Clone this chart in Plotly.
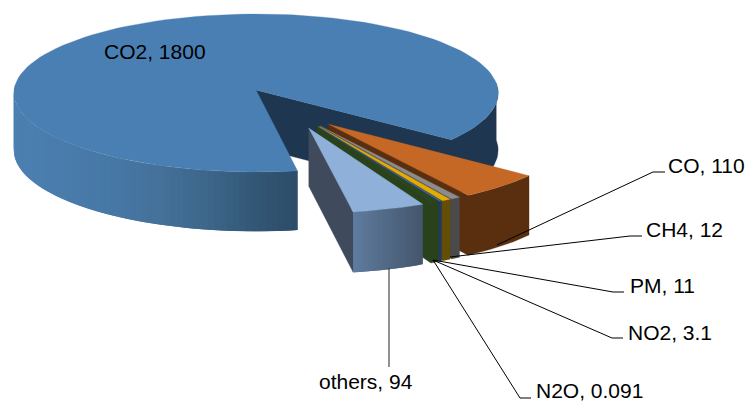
import math
import plotly.graph_objects as go

# ---- data ----
names = ["CO2", "CO", "CH4", "PM", "NO2", "N2O", "others"]
shown_values = ["1800", "110", "12", "11", "3.1", "0.091", "94"]
wedge_sizes = [1800, 110, 12, 11, 3.1, 11, 94]  # the N2O wedge is drawn much wider than its label says
top_colors = ["#4A7FB3", "#C56825", "#8C8C8C", "#E3AB05", "#3A66A3", "#2D451C", "#8FB0D9"]
wall_colors = ["#1F3650", "#5A2F10", "#4A4A4A", "#654D05", "#1F3A66", "#2A421C", "#3F4B5C"]
exploded = [0, 0.52, 0.52, 0.52, 0.52, 0.52, 0.52]

# ---- projection settings ----
CX, CY, RX, RY, K, DEPTH = 256, 90, 242, 78.9, 0.038, 57
START = -80.5
MID0 = -61
FONT = dict(family="Liberation Sans, Arial, sans-serif", size=21, color="#000000")


def mix(c1, c2, t):
    a = [int(c1[i:i + 2], 16) for i in (1, 3, 5)]
    b = [int(c2[i:i + 2], 16) for i in (1, 3, 5)]
    return "rgb(%d,%d,%d)" % tuple(round(a[i] + (b[i] - a[i]) * t) for i in range(3))


def project(X, Y, z=0.0):
    p = 1 / (1 + K * Y)
    return CX + RX * X * p, CY - RY * Y * p + z * DEPTH * p


def rim(a, ox, oy, z=0.0):
    r = math.radians(a)
    return project(math.cos(r) + ox, math.sin(r) + oy, z)


fig = go.Figure()


def poly(points, color, seam=0.0):
    fig.add_trace(go.Scatter(
        x=[p[0] for p in points] + [points[0][0]],
        y=[p[1] for p in points] + [points[0][1]],
        mode="lines", fill="toself", fillcolor=color,
        line=dict(color=color, width=seam), hoverinfo="skip", showlegend=False))


def arc(a1, a2, n=60):
    return [a1 + (a2 - a1) * i / n for i in range(n + 1)]


def body_flat(a_wall, a_far, ox, oy, color, n=40):
    # cut wall and outer side as one outline, so that no seam shows between them
    angles = arc(a_wall, a_far, n)
    poly([project(ox, oy)] + [rim(a, ox, oy) for a in angles]
         + [rim(a, ox, oy, 1) for a in reversed(angles)] + [project(ox, oy, 1)], color, 0.3)


def side_shaded(a1, a2, ox, oy, color_at, n=60):
    # each band runs on under the next one, so that no seam shows between bands
    angles = arc(a1, a2, n)
    for j in range(n):
        u, v = angles[j], angles[min(j + 2, n)]
        poly([rim(u, ox, oy), rim(v, ox, oy), rim(v, ox, oy, 1), rim(u, ox, oy, 1)],
             color_at((angles[j] + angles[j + 1]) / 2))


def top(a1, a2, ox, oy, color):
    pts = [project(ox, oy)] + [rim(a, ox, oy) for a in arc(a1, a2, 120)]
    poly(pts, color, 0.3)


# wedge angle ranges, clockwise from START; the small wedges continue from the far cut edge
total = sum(wedge_sizes)
ranges = []
cur = START
for s in wedge_sizes:
    ranges.append((cur, cur - s / total * 360))
    cur = ranges[-1][1]
    if len(ranges) == 1:
        cur += 360

# ---- CO2: main body ----
co2_a, co2_b = ranges[0]
end = co2_b + 360  # right-hand cut edge
body_flat(end, 5, 0, 0, wall_colors[0], 20)
stops = ["#4B80B1", "#4A7CAC", "#4778A6", "#45719B", "#3D688C", "#335877", "#2D4C68"]


def co2_rim(a):
    x = rim(a, 0, 0)[0]
    t = max(0, min(0.999, (x - 14) / (298 - 14))) * (len(stops) - 1)
    i = int(t)
    return mix(stops[i], stops[i + 1], t - i)


side_shaded(-183, co2_a, 0, 0, co2_rim, 70)
top(co2_a, co2_b, 0, 0, top_colors[0])

# ---- exploded wedges, back to front ----
for i in range(1, len(names)):
    a1, a2 = ranges[i]
    mid = MID0 + 0.42 * ((a1 + a2) / 2 - MID0)
    ox = exploded[i] * math.cos(math.radians(mid))
    oy = exploded[i] * math.sin(math.radians(mid))
    if names[i] == "others":
        poly([project(ox, oy), rim(a2, ox, oy), rim(a2, ox, oy, 1), project(ox, oy, 1)], wall_colors[i], 0.3)
        xa, xb = rim(a1, ox, oy)[0], rim(a2, ox, oy)[0]
        side_shaded(a1, a2, ox, oy,
                    lambda a: mix("#5F7B9E", "#44566C", (rim(a, ox, oy)[0] - xb) / (xa - xb)), 24)
    else:
        body_flat(a2, a1, ox, oy, wall_colors[i], 24)
    top(a1, a2, ox, oy, top_colors[i])

# ---- labels and leader lines ----
labels = [f"{n}, {v}" for n, v in zip(names, shown_values)]
label_pos = [(102, 51), (666, 165), (644, 229), (628, 285), (626, 332), (534, 390), (317, 381)]
leaders = {
    1: [(497, 245), (653, 172), (665, 172)],
    2: [(450, 257), (630, 236), (642, 236)],
    3: [(433, 260), (613, 292), (624, 292)],
    4: [(433, 260), (612, 338), (623, 338)],
    5: [(433, 260), (520, 398), (531, 398)],
    6: [(389, 268), (389, 367)],
}
for i, path in leaders.items():
    fig.add_trace(go.Scatter(x=[p[0] for p in path], y=[p[1] for p in path], mode="lines",
                             line=dict(color="#000000" if i != 6 else "#222222", width=1),
                             hoverinfo="skip", showlegend=False))
annotations = [dict(x=p[0], y=p[1], text=t, xref="x", yref="y", showarrow=False,
                    xanchor="left", yanchor="middle", font=FONT)
               for t, p in zip(labels, label_pos)]

fig.update_layout(
    width=750, height=401, margin=dict(l=0, r=0, t=0, b=0),
    paper_bgcolor="#FFFFFF", plot_bgcolor="#FFFFFF", annotations=annotations,
    xaxis=dict(range=[0, 750], visible=False, fixedrange=True),
    yaxis=dict(range=[401, 0], visible=False, fixedrange=True),
)
fig.write_html("out.html", config=dict(displayModeBar=False),
               post_script="document.body.style.margin='0';")
